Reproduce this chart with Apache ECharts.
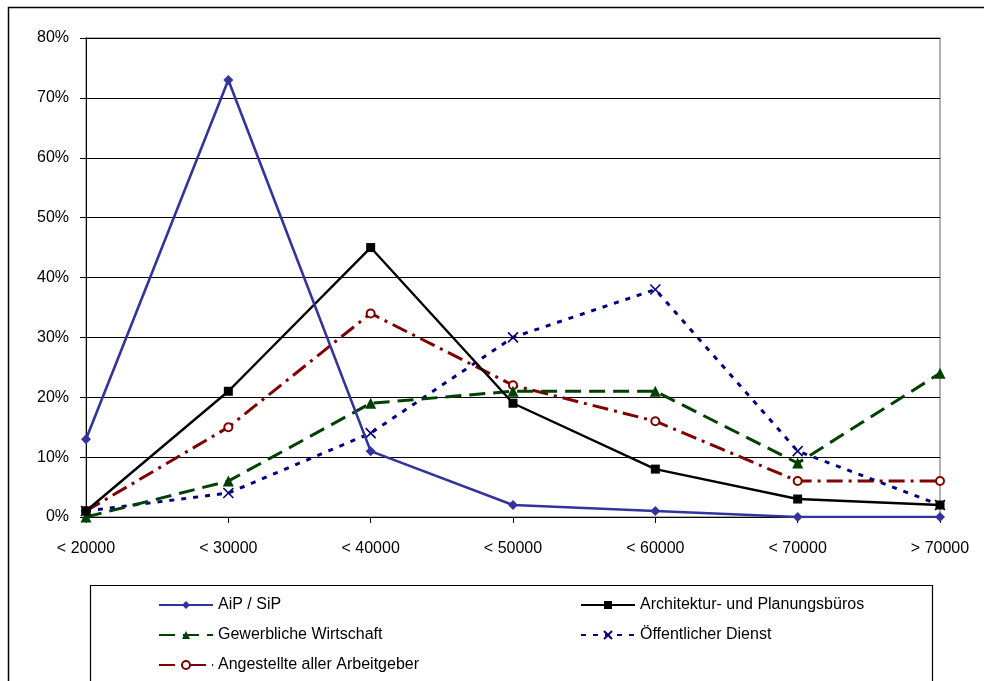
<!DOCTYPE html>
<html>
<head>
<meta charset="utf-8">
<script src="https://cdn.jsdelivr.net/npm/echarts@6/dist/echarts.min.js"></script>
<style>
html,body{margin:0;padding:0;background:#fff;}
#chart{width:984px;height:681px;}
</style>
</head>
<body>
<div id="chart"></div>
<script>
const categories = ['< 20000', '< 30000', '< 40000', '< 50000', '< 60000', '< 70000', '> 70000'];
const yTicks = [0, 10, 20, 30, 40, 50, 60, 70, 80];
const aipSip = [13, 73, 11, 2, 1, 0, 0];
const architektur = [1, 21, 45, 19, 8, 3, 2];
const gewerblich = [0, 6, 19, 21, 21, 9, 24];
const oeffentlich = [1, 4, 14, 30, 38, 11, 2];
const angestellte = [1, 15, 34, 22, 16, 6, 6];
const seriesNames = ['AiP / SiP', 'Architektur- und Planungsbüros', 'Gewerbliche Wirtschaft', 'Öffentlicher Dienst', 'Angestellte aller Arbeitgeber'];

const FONT = "'Liberation Sans', Arial, sans-serif";
const chart = echarts.init(document.getElementById('chart'), null, {renderer: 'canvas'});

chart.setOption({
  animation: false,
  backgroundColor: '#fff',
  textStyle: {fontFamily: FONT},
  graphic: [
    {type: 'rect', shape: {x: 8.5, y: 7.5, width: 1000, height: 700}, style: {fill: 'none', stroke: '#000', lineWidth: 1.5}, silent: true, z: -10},
    {type: 'rect', shape: {x: 90.5, y: 585.5, width: 842, height: 200}, style: {fill: 'none', stroke: '#000', lineWidth: 1.2}, silent: true, z: -10}
  ],
  grid: {left: 86, right: 44, top: 38, bottom: 164, show: true, borderColor: '#999', borderWidth: 1.5},
  xAxis: {
    type: 'category',
    data: categories,
    boundaryGap: false,
    axisLine: {lineStyle: {color: '#000', width: 1}},
    axisTick: {show: true, length: 6, lineStyle: {color: '#000'}},
    axisLabel: {color: '#000', fontSize: 16, fontFamily: FONT, margin: 24},
    splitLine: {show: false}
  },
  yAxis: {
    type: 'value',
    min: yTicks[0],
    max: yTicks[yTicks.length - 1],
    interval: 10,
    axisLine: {show: true, lineStyle: {color: '#000', width: 1}},
    axisTick: {show: true, length: 6, lineStyle: {color: '#000'}},
    axisLabel: {color: '#000', fontSize: 16, fontFamily: FONT, margin: 17, formatter: '{value}%', padding: [7, 0, 0, 0]},
    splitLine: {show: true, lineStyle: {color: '#000', width: 1}}
  },
  legend: [
    {
      data: [seriesNames[0], seriesNames[2], seriesNames[4]],
      orient: 'vertical', left: 153, top: 592, itemGap: 14, itemWidth: 54, itemHeight: 10,
      textStyle: {fontSize: 16, color: '#000', fontFamily: FONT}
    },
    {
      data: [seriesNames[1], seriesNames[3]],
      orient: 'vertical', left: 575, top: 592, itemGap: 14, itemWidth: 54, itemHeight: 10,
      textStyle: {fontSize: 16, color: '#000', fontFamily: FONT}
    }
  ],
  series: [
    {
      name: seriesNames[0], type: 'line', data: aipSip,
      symbol: 'diamond', symbolSize: 10, showAllSymbol: true,
      lineStyle: {color: '#3333a0', width: 2.6},
      itemStyle: {color: '#3333a0'}, z: 5
    },
    {
      name: seriesNames[1], type: 'line', data: architektur,
      symbol: 'rect', symbolSize: 9,
      lineStyle: {color: '#000', width: 2.4},
      itemStyle: {color: '#000'}, z: 4
    },
    {
      name: seriesNames[2], type: 'line', data: gewerblich,
      symbol: 'triangle', symbolSize: 11,
      lineStyle: {color: '#004000', width: 3, type: [16, 8]},
      itemStyle: {color: '#004000'}, z: 3
    },
    {
      name: seriesNames[3], type: 'line', data: oeffentlich,
      symbol: 'path://M0,0L10,10M10,0L0,10', symbolSize: 10,
      lineStyle: {color: '#000080', width: 3, type: [5, 7]},
      itemStyle: {color: 'none', borderColor: '#000080', borderWidth: 1.6}, z: 2
    },
    {
      name: seriesNames[4], type: 'line', data: angestellte,
      symbol: 'emptyCircle', symbolSize: 8,
      lineStyle: {color: '#800000', width: 3, type: [16, 6, 3, 6]},
      itemStyle: {color: '#800000', borderWidth: 1.5}, z: 1
    }
  ]
});
</script>
</body>
</html>
